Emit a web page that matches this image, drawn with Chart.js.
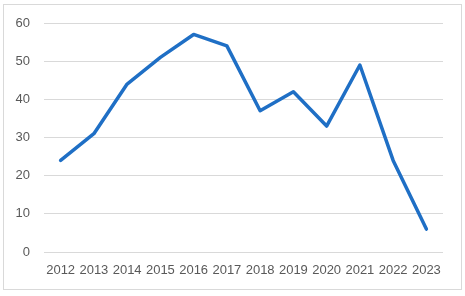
<!DOCTYPE html>
<html>
<head>
<meta charset="utf-8">
<script src="https://cdn.jsdelivr.net/npm/chart.js@4/dist/chart.umd.min.js"></script>
<style>
  html, body { margin: 0; padding: 0; background: #fff; }
  #wrap { position: relative; width: 465px; height: 296px; }
</style>
</head>
<body>
<div id="wrap"><canvas id="chart"></canvas></div>
<script>
// Values
const years = ['2012', '2013', '2014', '2015', '2016', '2017', '2018', '2019', '2020', '2021', '2022', '2023'];
const values = [24, 31, 44, 51, 57, 54, 37, 42, 33, 49, 24, 6];
const yTicks = [0, 10, 20, 30, 40, 50, 60];

// draws the thin grey frame around the chart area
const framePlugin = {
  id: 'frame',
  beforeDraw(chart) {
    const ctx = chart.ctx;
    ctx.save();
    ctx.strokeStyle = '#d9d9d9';
    ctx.lineWidth = 1;
    ctx.strokeRect(3.5, 4.5, 458, 285);
    ctx.restore();
  }
};

const tickFont = { family: '"Liberation Sans", Arial, sans-serif', size: 13 };

new Chart(document.getElementById('chart'), {
  type: 'line',
  data: {
    labels: years,
    datasets: [{
      data: values,
      borderColor: '#1f6fc5',
      borderWidth: 3.5,
      borderJoinStyle: 'round',
      borderCapStyle: 'round',
      pointRadius: 0,
      tension: 0,
      fill: false
    }]
  },
  options: {
    responsive: true,
    maintainAspectRatio: false,
    animation: false,
    layout: { padding: { top: 23, right: 22, bottom: 0, left: 0 } },
    plugins: {
      legend: { display: false },
      tooltip: { enabled: false }
    },
    scales: {
      x: {
        offset: true,
        grid: { display: false, drawTicks: false },
        border: { display: false },
        ticks: { color: '#595959', font: tickFont, padding: 11, maxRotation: 0, autoSkip: false },
        afterFit(scale) { scale.height = 44; }
      },
      y: {
        min: 0,
        max: 60,
        afterBuildTicks(scale) { scale.ticks = yTicks.map(v => ({ value: v })); },
        grid: { color: '#d9d9d9', lineWidth: 1, drawTicks: false },
        border: { display: false },
        ticks: { color: '#595959', font: tickFont, padding: 14 },
        afterFit(scale) { scale.width = 44; }
      }
    }
  },
  plugins: [framePlugin]
});
</script>
</body>
</html>
